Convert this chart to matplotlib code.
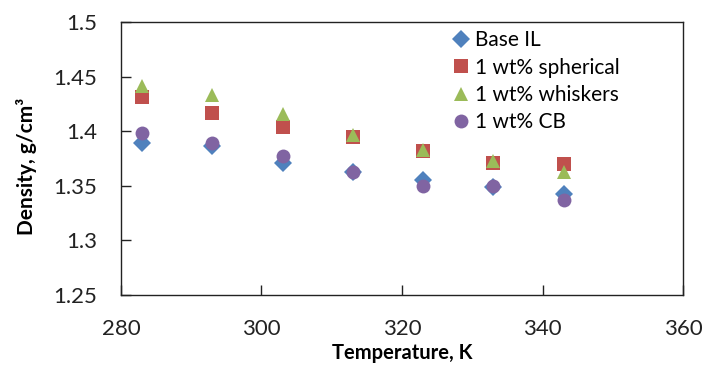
import numpy as np
import matplotlib
matplotlib.use('Agg')
import matplotlib.pyplot as plt

plt.rcParams['font.family'] = ['Lato', 'DejaVu Sans']

temp = [283, 293, 303, 313, 323, 333, 343]
base_il = [1.389, 1.386, 1.371, 1.363, 1.355, 1.349, 1.342]
spherical = [1.431, 1.417, 1.404, 1.395, 1.382, 1.371, 1.370]
whiskers = [1.441, 1.433, 1.416, 1.396, 1.383, 1.373, 1.363]
cb = [1.398, 1.389, 1.377, 1.363, 1.350, 1.350, 1.337]

fig = plt.figure(figsize=(7.03, 3.65), dpi=100)
ax = fig.add_axes([0.172, 0.192, 0.7996, 0.748])

ax.plot(temp, base_il, 'D', color='#4F81BD', ms=9.5, mew=0, label='Base IL')
ax.plot(temp, spherical, 's', color='#C0504D', ms=9.5, mew=0, label='1 wt% spherical')
ax.plot(temp, whiskers, '^', color='#9BBB59', ms=10.5, mew=0, label='1 wt% whiskers')
ax.plot(temp, cb, 'o', color='#8064A2', ms=10, mew=0, label='1 wt% CB')

ax.set_xlim(280, 360)
ax.set_ylim(1.25, 1.5)
ax.set_xticks([280, 300, 320, 340, 360])
ax.set_yticks([1.25, 1.3, 1.35, 1.4, 1.45, 1.5])
ax.set_yticklabels(['1.25', '1.3', '1.35', '1.4', '1.45', '1.5'])
ax.tick_params(direction='in', length=7, width=1, labelsize=16, colors='#222222')
ax.tick_params(axis='x', pad=17)
ax.tick_params(axis='y', pad=17)
for s in ax.spines.values():
    s.set_linewidth(1)
    s.set_color('#222222')

ax.set_xlabel('Temperature, K', fontsize=14.5, fontweight='bold')
ax.set_ylabel('Density, g/cm³', fontsize=15, fontweight='bold')
ax.xaxis.set_label_coords(0.5, -0.175)
ax.yaxis.set_label_coords(-0.149, 0.47)

ax.legend(loc='upper left', bbox_to_anchor=(0.571, 1.0), frameon=False, fontsize=15,
          handletextpad=0.2, labelspacing=0.35, handlelength=1.0, borderaxespad=0)

fig.savefig('out.png', dpi=100)
